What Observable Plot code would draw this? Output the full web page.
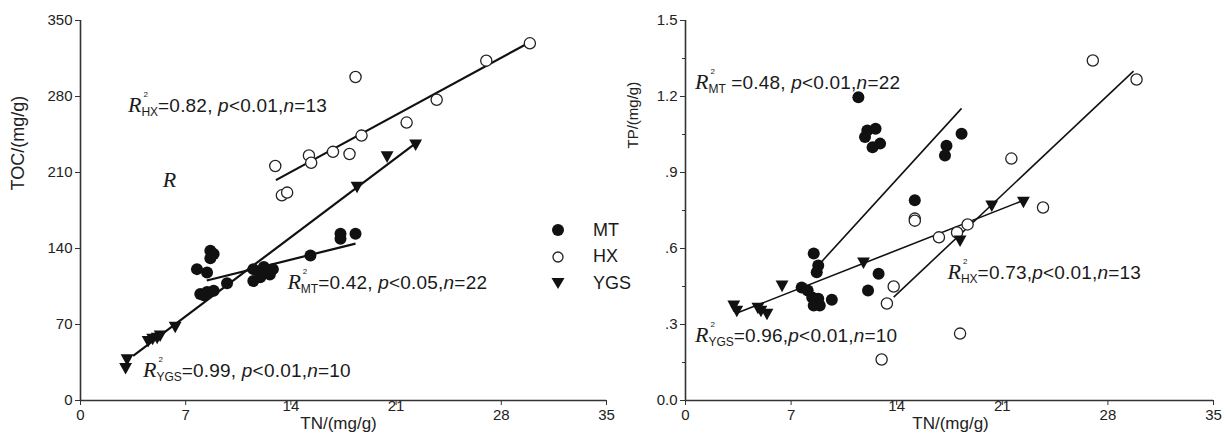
<!DOCTYPE html>
<html><head><meta charset="utf-8">
<script src="https://cdn.jsdelivr.net/npm/d3@7"></script>
<script src="https://cdn.jsdelivr.net/npm/@observablehq/plot@0.6"></script>
<style>
body{margin:0;background:#fff;}
#wrap{position:relative;width:1226px;height:445px;overflow:hidden;font-family:"Liberation Sans",Arial,sans-serif;color:#1a1a1a;}
.panel{position:absolute;top:0;}
.panel svg{overflow:visible;}
.ann{position:absolute;white-space:nowrap;font-size:19px;letter-spacing:0.2px;line-height:1;transform:translateY(-50%);}
.R{font-family:"Liberation Serif","Times New Roman",serif;font-style:italic;font-size:22px;letter-spacing:0;}
.ss{position:relative;display:inline-block;}
.sb{font-size:12px;position:relative;top:4px;letter-spacing:0;}
.sp{position:absolute;left:2px;top:-5px;font-size:8px;}
.legend{position:absolute;left:549px;top:217px;font-size:18px;}
.legend .row{display:flex;align-items:center;height:26.5px;}
.legend .row span{margin-left:26px;}
</style>
</head><body>
<div id="wrap"></div>
<script>
// ---------- data ----------
const groups = ["MT", "HX", "YGS"];
const xTicks = [0, 7, 14, 21, 28, 35];
const xTicksRaised = [14, 21];
const yTicksLeft = [0, 70, 140, 210, 280, 350];
const yTicksRight = [0, 0.3, 0.6, 0.9, 1.2, 1.5];
const yTickLabelsRight = ["0.0", ".3", ".6", ".9", "1.2", "1.5"];
const yMinorRight = [0.15, 0.45, 0.75, 1.05, 1.35];
const xTitle = "TN/(mg/g)";
const yTitleLeft = "TOC/(mg/g)";
const yTitleRight = "TP/(mg/g)";

// Left panel: TN vs TOC
const mtTN_L  = [7.75, 8.42, 8.64, 8.86, 8.64, 7.97, 8.42, 8.86, 9.75, 11.5, 11.96, 12.4, 12.8, 11.5, 12.2, 15.3, 17.3, 17.3, 18.3, 12.0, 12.6, 8.2];
const mtTOC   = [121, 118, 138, 135, 131, 98, 100, 101, 108, 110, 113.6, 120, 121, 121, 123, 133.5, 153.5, 149, 153.5, 117, 116, 97];
const hxTN_L  = [12.96, 13.4, 13.75, 15.2, 15.35, 16.8, 17.9, 18.7, 18.3, 21.7, 23.7, 27.0, 29.9];
const hxTOC   = [216, 189, 191.5, 225.7, 219, 229, 227, 244, 298, 256, 277, 313, 329];
const ygsTN_L = [3.0, 3.1, 4.5, 4.8, 5.1, 5.3, 6.3, 18.4, 20.4, 22.3];
const ygsTOC  = [30, 38, 55, 57, 58, 60, 68, 197, 225, 236];

// Right panel: TN vs TP
const mtTN_R  = [11.46, 12.05, 12.6, 11.9, 12.4, 12.9, 15.2, 18.3, 17.3, 17.2, 8.5, 8.8, 8.7, 7.7, 8.1, 8.4, 8.8, 8.5, 8.9, 9.7, 12.8, 12.1];
const mtTP    = [1.197, 1.066, 1.073, 1.04, 1.0, 1.014, 0.79, 1.053, 1.006, 0.967, 0.58, 0.533, 0.506, 0.446, 0.434, 0.407, 0.402, 0.375, 0.375, 0.398, 0.50, 0.434];
const hxTN_R  = [15.2, 15.2, 16.8, 13.8, 13.35, 13.0, 18.7, 18.0, 18.2, 23.7, 27.0, 29.9, 21.6];
const hxTP    = [0.718, 0.71, 0.644, 0.45, 0.383, 0.162, 0.695, 0.663, 0.264, 0.762, 1.342, 1.267, 0.955];
const ygsTN_R = [3.2, 3.4, 4.8, 5.0, 5.4, 6.4, 11.8, 18.2, 20.3, 22.4];
const ygsTP   = [0.375, 0.355, 0.367, 0.355, 0.343, 0.454, 0.545, 0.632, 0.77, 0.785];

// Fitted regression lines (start/end)
const fitGroups  = ["HX", "MT", "YGS"];
const fitLeftX0  = [13.0, 8.4, 3.5];
const fitLeftY0  = [203, 110.5, 41];
const fitLeftX1  = [29.9, 18.3, 22.4];
const fitLeftY1  = [330, 144.5, 238];
const fitRightX0 = [13.8, 8.9, 3.5];
const fitRightY0 = [0.408, 0.54, 0.347];
const fitRightX1 = [29.7, 18.3, 22.4];
const fitRightY1 = [1.30, 1.153, 0.79];

// Annotations
const annLeftGroup  = ["HX", "MT", "YGS"];
const annLeftX      = [3.19, 13.8, 4.19];
const annLeftY      = [271.7, 108.7, 27.6];
const annLeftR2     = ["0.82", "0.42", "0.99"];
const annLeftP      = ["0.01", "0.05", "0.01"];
const annLeftN      = ["13", "22", "10"];
const annLeftSpace  = [" ", " ", " "];
const annRightGroup = ["MT", "YGS", "HX"];
const annRightX     = [0.66, 0.66, 17.4];
const annRightY     = [1.255, 0.257, 0.505];
const annRightR2    = ["0.48", "0.96", "0.73"];
const annRightP     = ["0.01", "0.01", "0.01"];
const annRightN     = ["22", "10", "13"];
const annRightSpace = [" ", "", ""];
const annRightPre   = [" ", "", ""];
const strayR = {x: 5.5, y: 202.6, text: "R"};

// ---------- helpers ----------
const zip = (g, xs, ys) => xs.map((x, i) => ({group: g, x, y: ys[i]}));
const fits = (x0, y0, x1, y1) => fitGroups.map((g, i) => ({group: g, x0: x0[i], y0: y0[i], x1: x1[i], y1: y1[i]}));
const triDown = {
  draw(ctx, size) {
    const w = Math.sqrt(size) * 1.15;
    ctx.moveTo(-w / 2, -w * 0.38);
    ctx.lineTo(w / 2, -w * 0.38);
    ctx.lineTo(0, w * 0.52);
    ctx.closePath();
  }
};

function panel({mt, hx, ygs, fit, yDomain, yTicks, yFmt, minor, lw, marginLeft, marginRight, yTitle, yTitleDx, yTitleDy, yTitleSize, xTitleDx}) {
  const marks = [
    Plot.ruleY([yDomain[0]], {stroke: "#333", strokeWidth: 1.6}),
    Plot.ruleX([0], {stroke: "#333", strokeWidth: 1.6}),
    Plot.axisY({ticks: yTicks, tickFormat: yFmt, tickSize: 5, tickPadding: 3, label: null, stroke: "#333", fill: "#222"}),
    Plot.axisX({ticks: xTicks.filter(t => !xTicksRaised.includes(t)), tickSize: 5, tickPadding: 4, label: null, stroke: "#333", fill: "#222"}),
    Plot.axisX({ticks: xTicksRaised, tickSize: 5, tickPadding: -5, label: null, stroke: "#333", fill: "#222"}),
    Plot.text([yTitle], {frameAnchor: "left", rotate: -90, dx: yTitleDx, dy: yTitleDy, fontSize: yTitleSize, fill: "#222"}),
    Plot.text([xTitle], {frameAnchor: "bottom", dx: xTitleDx, dy: 28, fontSize: 17, fill: "#222"}),
    Plot.link(fit, {x1: "x0", y1: "y0", x2: "x1", y2: "y1", stroke: "#111", strokeWidth: lw}),
    Plot.dot(mt, {x: "x", y: "y", r: 6, fill: "#111", stroke: "none"}),
    Plot.dot(hx, {x: "x", y: "y", r: 5.6, fill: "#fff", stroke: "#222", strokeWidth: 1.3}),
    Plot.dot(ygs, {x: "x", y: "y", r: 6.3, symbol: triDown, fill: "#111", stroke: "none"})
  ];
  if (minor) marks.splice(3, 0, Plot.axisY({ticks: minor, tickFormat: () => "", tickSize: 3, label: null, stroke: "#333"}));
  return Plot.plot({
    width: 613, height: 445,
    marginLeft, marginRight, marginTop: 20, marginBottom: 45,
    style: {fontFamily: '"Liberation Sans", Arial, sans-serif', fontSize: "15px", background: "transparent", color: "#222", overflow: "visible"},
    x: {domain: [0, 35]},
    y: {domain: yDomain},
    marks
  });
}

const wrap = document.getElementById("wrap");

const left = panel({
  mt: zip("MT", mtTN_L, mtTOC), hx: zip("HX", hxTN_L, hxTOC), ygs: zip("YGS", ygsTN_L, ygsTOC),
  fit: fits(fitLeftX0, fitLeftY0, fitLeftX1, fitLeftY1),
  yDomain: [0, 350], yTicks: yTicksLeft, yFmt: d => String(d), minor: null, lw: 2.2,
  marginLeft: 80, marginRight: 7, yTitle: yTitleLeft, yTitleDx: -62, yTitleDy: -20, yTitleSize: 18, xTitleDx: -5
});
const right = panel({
  mt: zip("MT", mtTN_R, mtTP), hx: zip("HX", hxTN_R, hxTP), ygs: zip("YGS", ygsTN_R, ygsTP),
  fit: fits(fitRightX0, fitRightY0, fitRightX1, fitRightY1),
  yDomain: [0, 1.5], yTicks: yTicksRight, yFmt: d => yTickLabelsRight[yTicksRight.findIndex(t => Math.abs(t - d) < 1e-9)], minor: yMinorRight, lw: 1.6,
  marginLeft: 72, marginRight: 13, yTitle: yTitleRight, yTitleDx: -52, yTitleDy: -62, yTitleSize: 15, xTitleDx: 1
});

const panels = [{chart: left, off: 0}, {chart: right, off: 613}];
panels.forEach(p => {
  const d = document.createElement("div");
  d.className = "panel";
  d.style.left = p.off + "px";
  d.appendChild(p.chart);
  wrap.appendChild(d);
});

function addAnn(p, x, y, g, r2, pv, n, sp, pre) {
  const xs = p.chart.scale("x"), ys = p.chart.scale("y");
  const el = document.createElement("div");
  el.className = "ann";
  el.style.left = (p.off + xs.apply(x)) + "px";
  el.style.top = ys.apply(y) + "px";
  el.innerHTML = `<span class="R">R</span><span class="ss"><span class="sb">${g}</span><span class="sp">2</span></span>${pre}=${r2},${sp}<i>p</i>&lt;${pv},<i>n</i>=${n}`;
  wrap.appendChild(el);
}
annLeftGroup.forEach((g, i) => addAnn(panels[0], annLeftX[i], annLeftY[i], g, annLeftR2[i], annLeftP[i], annLeftN[i], annLeftSpace[i], ""));
annRightGroup.forEach((g, i) => addAnn(panels[1], annRightX[i], annRightY[i], g, annRightR2[i], annRightP[i], annRightN[i], annRightSpace[i], annRightPre[i]));
{
  const el = document.createElement("div");
  el.className = "ann R";
  el.style.left = panels[0].chart.scale("x").apply(strayR.x) + "px";
  el.style.top = panels[0].chart.scale("y").apply(strayR.y) + "px";
  el.textContent = strayR.text;
  wrap.appendChild(el);
}

// Legend
const leg = document.createElement("div");
leg.className = "legend";
const legSym = {
  MT: '<circle cx="9" cy="9" r="6" fill="#111"/>',
  HX: '<circle cx="9" cy="9" r="5" fill="#fff" stroke="#222" stroke-width="1.3"/>',
  YGS: '<path d="M2.5,4 L15.5,4 L9,15 Z" fill="#111"/>'
};
groups.forEach(g => {
  const row = document.createElement("div");
  row.className = "row";
  row.innerHTML = `<svg width="18" height="18">${legSym[g]}</svg><span>${g}</span>`;
  leg.appendChild(row);
});
wrap.appendChild(leg);
</script>
</body></html>
